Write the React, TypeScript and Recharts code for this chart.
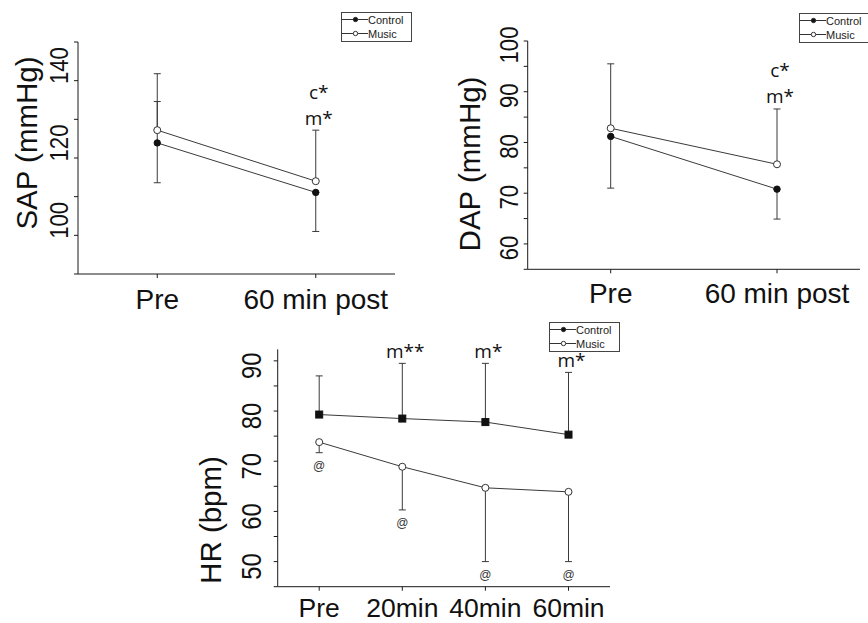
import React from 'react';
import { LineChart, Line, XAxis, YAxis, ErrorBar, ReferenceDot } from 'recharts';

// categories
const bpTimes = ['Pre', '60 min post'];
const hrTimes = ['Pre', '20min', '40min', '60min'];
const groups = ['Control', 'Music'];

// SAP (mmHg): means, error extents (low / high)
const sapControl = [123.9, 111.1];
const sapControlLow = [10.3, 10.1];
const sapControlHigh = [10.7, 0];
const sapMusic = [127.2, 114.0];
const sapMusicHigh = [14.6, 13.2];
const sapNotes = [[], ['c*', 'm*']];

// DAP (mmHg)
const dapControl = [81.2, 70.8];
const dapControlLow = [10.2, 5.9];
const dapMusic = [82.8, 75.7];
const dapMusicHigh = [12.7, 10.9];
const dapNotes = [[], ['c*', 'm*']];

// HR (bpm)
const hrControl = [79.3, 78.5, 77.8, 75.3];
const hrControlHigh = [7.7, 11.0, 11.7, 12.4];
const hrMusic = [73.8, 68.9, 64.7, 63.9];
const hrMusicLow = [2.1, 8.6, 14.7, 13.9];
const hrNotes = ['', 'm**', 'm*', 'm*'];
const hrMusicNotes = ['@', '@', '@', '@'];

// axes
const sapDomain = [90, 150];
const sapTicks = [90, 100, 110, 120, 130, 140, 150];
const sapLabels = [100, 120, 140];
const dapDomain = [55, 100];
const dapTicks = [55, 60, 65, 70, 75, 80, 85, 90, 95, 100];
const dapLabels = [60, 70, 80, 90, 100];
const hrDomain = [45, 92.3];
const hrTicks = [45, 50, 55, 60, 65, 70, 75, 80, 85, 90];
const hrLabels = [50, 60, 70, 80, 90];

const AX = '#1a1a1a';
const LINE = '#3a3a3a';
const SANS = "'Liberation Sans', Arial, sans-serif";
const NOTE_FONT = "'Open Sans', 'Noto Sans', sans-serif";

const sapData = bpTimes.map((time, i) => ({
  time,
  control: sapControl[i],
  music: sapMusic[i],
  controlErr: [sapControlLow[i], sapControlHigh[i]],
  musicErr: [0, sapMusicHigh[i]],
}));

const dapData = bpTimes.map((time, i) => ({
  time,
  control: dapControl[i],
  music: dapMusic[i],
  controlErr: [dapControlLow[i], 0],
  musicErr: [0, dapMusicHigh[i]],
}));

const hrData = hrTimes.map((time, i) => ({
  time,
  control: hrControl[i],
  music: hrMusic[i],
  controlErr: [0, hrControlHigh[i]],
  musicErr: [hrMusicLow[i], 0],
}));

const YTick = ({ x, y, payload, labels, gap, shift, size }: any) => {
  if (!labels.includes(payload.value)) return <g />;
  return (
    <text
      transform={`translate(${x - gap}, ${y + shift}) rotate(-90) scale(0.85, 1)`}
      textAnchor="middle"
      fontSize={size}
      fontFamily={SANS}
      fill="#111"
    >
      {payload.value}
    </text>
  );
};

const XTick = ({ x, y, payload, dy, size = 28 }: any) => (
  <text x={x} y={y + dy} textAnchor="middle" fontSize={size} fontFamily={SANS} fill="#111">
    {payload.value}
  </text>
);

const title = (text: string, x: number, y: number) => () => (
  <text transform={`translate(${x}, ${y}) rotate(-90)`} textAnchor="middle" fontSize={29.5} fontFamily={SANS} fill="#111">
    {text}
  </text>
);

// stacked significance marks above a point
const NoteAbove = ({ viewBox, lines, gap }: any) => {
  const cx = viewBox.x + viewBox.width / 2;
  const cy = viewBox.y + viewBox.height / 2;
  return (
    <g>
      {lines.map((t: string, k: number) => (
        <text key={k} x={cx + 3} y={cy - gap - (lines.length - 1 - k) * 26} textAnchor="middle" fontSize={19} fontFamily={NOTE_FONT} fill="#111">
          {t}
        </text>
      ))}
    </g>
  );
};

const NoteBelow = ({ viewBox, text }: any) => {
  const cx = viewBox.x + viewBox.width / 2;
  const cy = viewBox.y + viewBox.height / 2;
  return (
    <text x={cx} y={cy + 17} textAnchor="middle" fontSize={12} fontFamily={SANS} fill="#333">
      {text}
    </text>
  );
};

const squareDot = (p: any) => (
  <rect key={`sq-${p.index}`} x={p.cx - 3.5} y={p.cy - 3.5} width={7} height={7} fill="#111" stroke="#111" />
);

const LegendBox = ({ left, top }: { left: number; top: number }) => (
  <svg style={{ position: 'absolute', left, top }} width={72} height={31}>
    <rect x={0.5} y={0.5} width={70} height={29} fill="#fff" stroke="#444" />
    {groups.map((g, i) => {
      const y = 7.5 + i * 14;
      return (
        <g key={g}>
          <line x1={0.5} y1={y} x2={27} y2={y} stroke="#333" />
          <circle cx={14.5} cy={y} r={2.2} fill={i === 0 ? '#111' : '#fff'} stroke="#333" />
          <text x={27} y={y + 4} fontSize={11} fontFamily={SANS} fill="#222">
            {g}
          </text>
        </g>
      );
    })}
  </svg>
);

export default function App() {
  return (
    <div style={{ position: 'absolute', left: 0, top: 0, width: 868, height: 623, background: '#fff', overflow: 'hidden' }}>
      {/* SAP */}
      <div style={{ position: 'absolute', left: 0, top: 0 }}>
        <LineChart width={430} height={322} data={sapData} margin={{ top: 42, right: 35, left: 0, bottom: 0 }}>
          <XAxis
            dataKey="time"
            height={48}
            padding={{ left: 79.25, right: 79.25 }}
            tickSize={4}
            tickMargin={0}
            interval={0}
            axisLine={{ stroke: AX }}
            tickLine={{ stroke: AX }}
            tick={(p: any) => <XTick {...p} dy={31} />}
          />
          <YAxis
            type="number"
            domain={sapDomain}
            ticks={sapTicks}
            width={78}
            tickSize={4}
            tickMargin={0}
            interval={0}
            axisLine={{ stroke: AX }}
            tickLine={{ stroke: AX }}
            tick={(p: any) => <YTick {...p} labels={sapLabels} gap={6} shift={-15} size={26} />}
            label={title('SAP (mmHg)', 37, 143)}
          />
          <Line dataKey="control" name={groups[0]} stroke={LINE} strokeWidth={1} isAnimationActive={false}
            dot={{ r: 3.2, fill: '#111', stroke: '#111', strokeWidth: 1 }}>
            <ErrorBar dataKey="controlErr" width={3.5} stroke={LINE} strokeWidth={1} isAnimationActive={false} />
          </Line>
          <Line dataKey="music" name={groups[1]} stroke={LINE} strokeWidth={1} isAnimationActive={false}
            dot={{ r: 3.5, fill: '#fff', stroke: '#333', strokeWidth: 1 }}>
            <ErrorBar dataKey="musicErr" width={3.5} stroke={LINE} strokeWidth={1} isAnimationActive={false} />
          </Line>
          {bpTimes.map((t, i) =>
            sapNotes[i].length ? (
              <ReferenceDot key={t} x={t} y={sapMusic[i] + sapMusicHigh[i]} r={0} fill="none" stroke="none"
                label={(p: any) => <NoteAbove {...p} lines={sapNotes[i]} gap={5} />} />
            ) : null
          )}
        </LineChart>
        <LegendBox left={341} top={12} />
      </div>

      {/* DAP */}
      <div style={{ position: 'absolute', left: 430, top: 0 }}>
        <LineChart width={438} height={322} data={dapData} margin={{ top: 41, right: 8, left: 0, bottom: 0 }}>
          <XAxis
            dataKey="time"
            height={52.7}
            padding={{ left: 83, right: 83 }}
            tickSize={4}
            tickMargin={0}
            interval={0}
            axisLine={{ stroke: AX }}
            tickLine={{ stroke: AX }}
            tick={(p: any) => <XTick {...p} dy={30} />}
          />
          <YAxis
            type="number"
            domain={dapDomain}
            ticks={dapTicks}
            width={97.7}
            tickSize={4}
            tickMargin={0}
            interval={0}
            axisLine={{ stroke: AX }}
            tickLine={{ stroke: AX }}
            tick={(p: any) => <YTick {...p} labels={dapLabels} gap={6} shift={4} size={26} />}
            label={title('DAP (mmHg)', 50, 164)}
          />
          <Line dataKey="control" name={groups[0]} stroke={LINE} strokeWidth={1} isAnimationActive={false}
            dot={{ r: 3.2, fill: '#111', stroke: '#111', strokeWidth: 1 }}>
            <ErrorBar dataKey="controlErr" width={3.5} stroke={LINE} strokeWidth={1} isAnimationActive={false} />
          </Line>
          <Line dataKey="music" name={groups[1]} stroke={LINE} strokeWidth={1} isAnimationActive={false}
            dot={{ r: 3.5, fill: '#fff', stroke: '#333', strokeWidth: 1 }}>
            <ErrorBar dataKey="musicErr" width={3.5} stroke={LINE} strokeWidth={1} isAnimationActive={false} />
          </Line>
          {bpTimes.map((t, i) =>
            dapNotes[i].length ? (
              <ReferenceDot key={t} x={t} y={dapMusic[i] + dapMusicHigh[i]} r={0} fill="none" stroke="none"
                label={(p: any) => <NoteAbove {...p} lines={dapNotes[i]} gap={6} />} />
            ) : null
          )}
        </LineChart>
        <LegendBox left={369} top={12.5} />
      </div>

      {/* HR */}
      <div style={{ position: 'absolute', left: 180, top: 310 }}>
        <LineChart width={460} height={313} data={hrData} margin={{ top: 39.3, right: 30, left: 0, bottom: 0 }}>
          <XAxis
            dataKey="time"
            height={36.3}
            padding={{ left: 41.5, right: 41.5 }}
            tickSize={4}
            tickMargin={0}
            interval={0}
            axisLine={{ stroke: AX }}
            tickLine={{ stroke: AX }}
            tick={(p: any) => <XTick {...p} dy={26.3} size={26.5} />}
          />
          <YAxis
            type="number"
            domain={hrDomain}
            ticks={hrTicks}
            width={97.7}
            tickSize={4}
            tickMargin={0}
            interval={0}
            axisLine={{ stroke: AX }}
            tickLine={{ stroke: AX }}
            tick={(p: any) => <YTick {...p} labels={hrLabels} gap={13} shift={5} size={28} />}
            label={title('HR (bpm)', 40.7, 210)}
          />
          <Line dataKey="control" name={groups[0]} stroke={LINE} strokeWidth={1} isAnimationActive={false} dot={squareDot}>
            <ErrorBar dataKey="controlErr" width={3.5} stroke={LINE} strokeWidth={1} isAnimationActive={false} />
          </Line>
          <Line dataKey="music" name={groups[1]} stroke={LINE} strokeWidth={1} isAnimationActive={false}
            dot={{ r: 3.5, fill: '#fff', stroke: '#333', strokeWidth: 1 }}>
            <ErrorBar dataKey="musicErr" width={3.5} stroke={LINE} strokeWidth={1} isAnimationActive={false} />
          </Line>
          {hrTimes.map((t, i) =>
            hrNotes[i] ? (
              <ReferenceDot key={`c-${t}`} x={t} y={hrControl[i] + hrControlHigh[i]} r={0} fill="none" stroke="none"
                label={(p: any) => <NoteAbove {...p} lines={[hrNotes[i]]} gap={5} />} />
            ) : null
          )}
          {hrTimes.map((t, i) => (
            <ReferenceDot key={`m-${t}`} x={t} y={hrMusic[i] - hrMusicLow[i]} r={0} fill="none" stroke="none"
              label={(p: any) => <NoteBelow {...p} text={hrMusicNotes[i]} />} />
          ))}
        </LineChart>
        <LegendBox left={369.3} top={12.3} />
      </div>
    </div>
  );
}
